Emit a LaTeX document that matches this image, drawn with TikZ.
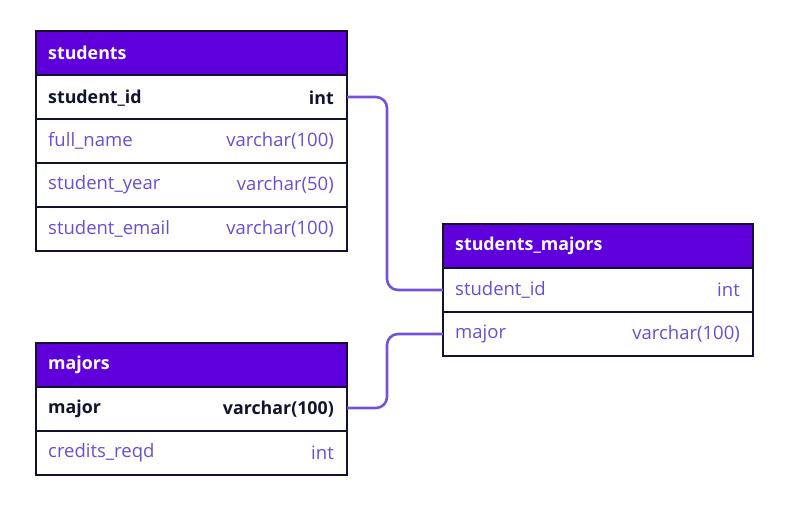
\documentclass[tikz,border=0pt]{standalone}
\usepackage{fontspec}
\setmainfont{Open Sans}
\definecolor{hdr}{HTML}{5F00DC}
\definecolor{navy}{HTML}{12132E}
\definecolor{fld}{HTML}{6A4DD6}
\definecolor{lnk}{HTML}{7553D9}
\begin{document}
\begin{tikzpicture}[x=1pt,y=-1pt,
  cellbox/.style={draw=navy,line width=1.6pt,fill=white},
  hdrbox/.style={draw=navy,line width=1.6pt,fill=hdr},
  lbl/.style={anchor=west,inner sep=0pt,font=\fontsize{18.5}{21}\selectfont},
  typ/.style={anchor=east,inner sep=0pt,font=\fontsize{18.5}{21}\selectfont},
  bld/.style={font=\fontsize{17.8}{21}\selectfont\bfseries},
  link/.style={draw=lnk,line width=2.6pt,rounded corners=11pt}]
\useasboundingbox (0,0) rectangle (790,527);
% students
\path[hdrbox] (36,31) rectangle (347,75);
\path[cellbox] (36,75) rectangle (347,119);
\path[cellbox] (36,119) rectangle (347,163);
\path[cellbox] (36,163) rectangle (347,207);
\path[cellbox] (36,207) rectangle (347,251);
\node[lbl,bld,text=white] (sT) at (48,53) {students};
\node[lbl,bld,text=navy] (s1) at (48,98) {student\_id};
\node[typ,bld,text=navy] (s1t) at (334,98) {int};
\node[lbl,text=fld] (s2) at (48,141) {full\_name};
\node[typ,text=fld] (s2t) at (334,141) {varchar(100)};
\node[lbl,text=fld] (s3) at (48,185) {student\_year};
\node[typ,text=fld] (s3t) at (334,185) {varchar(50)};
\node[lbl,text=fld] (s4) at (48,229) {student\_email};
\node[typ,text=fld] (s4t) at (334,229) {varchar(100)};
\coordinate (sR) at (347,97);
% students_majors
\path[hdrbox] (443,224) rectangle (753,268);
\path[cellbox] (443,268) rectangle (753,312);
\path[cellbox] (443,312) rectangle (753,356);
\node[lbl,bld,text=white] (smT) at (455,246) {students\_majors};
\node[lbl,text=fld] (sm1) at (455,290) {student\_id};
\node[typ,text=fld] (sm1t) at (740,290) {int};
\node[lbl,text=fld] (sm2) at (455,334) {major};
\node[typ,text=fld] (sm2t) at (740,334) {varchar(100)};
\coordinate (smL1) at (443,290);
\coordinate (smL2) at (443,334);
% majors
\path[hdrbox] (36,343) rectangle (347,387);
\path[cellbox] (36,387) rectangle (347,431);
\path[cellbox] (36,431) rectangle (347,475);
\node[lbl,bld,text=white] (mT) at (48,365) {majors};
\node[lbl,bld,text=navy] (m1) at (48,409) {major};
\node[typ,bld,text=navy] (m1t) at (334,409) {varchar(100)};
\node[lbl,text=fld] (m2) at (48,453) {credits\_reqd};
\node[typ,text=fld] (m2t) at (334,453) {int};
\coordinate (mR) at (347,408);
% links
\draw[link] (sR) -| (387,290) -- (smL1);
\draw[link] (mR) -| (387,334) -- (smL2);
\end{tikzpicture}
\end{document}
